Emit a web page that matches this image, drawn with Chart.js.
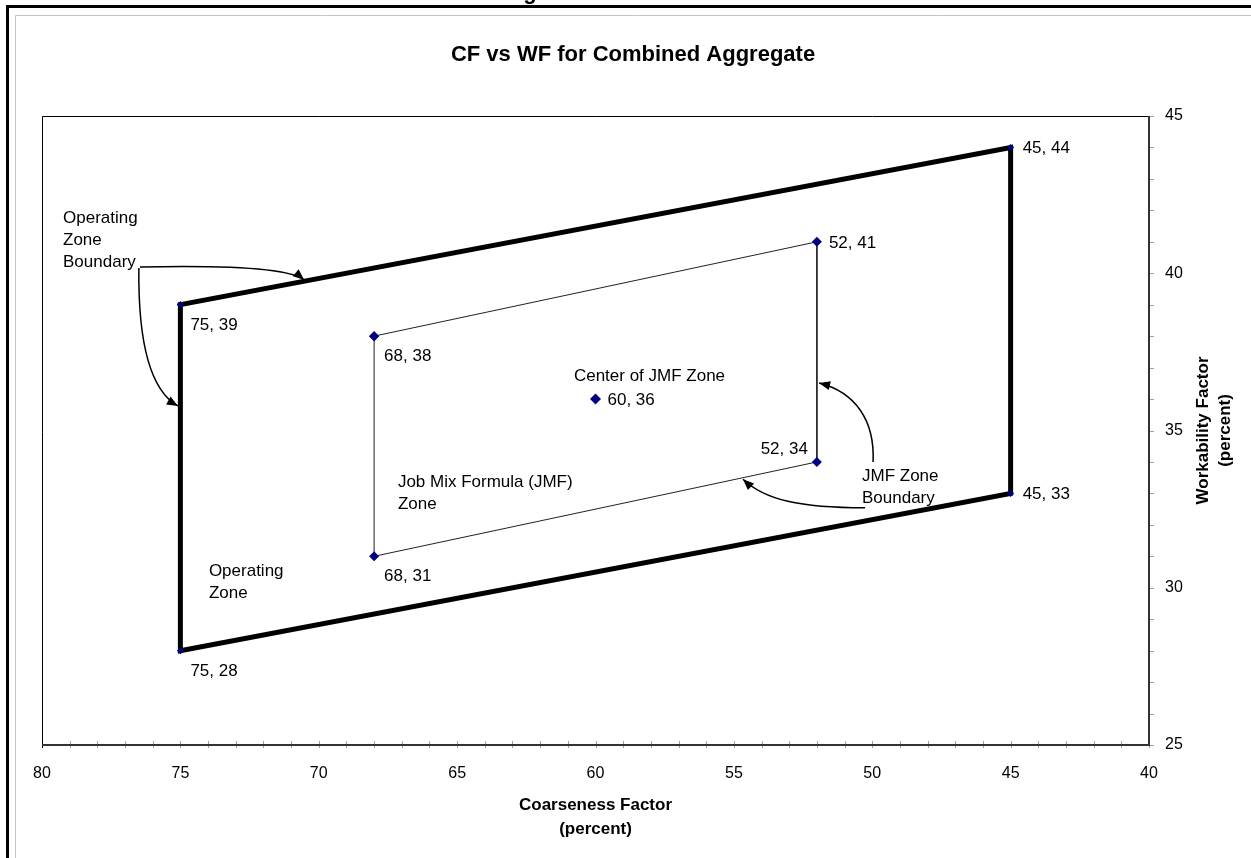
<!DOCTYPE html>
<html>
<head>
<meta charset="utf-8">
<script src="https://cdn.jsdelivr.net/npm/chart.js@4.4.0/dist/chart.umd.min.js"></script>
<style>
  html, body { margin: 0; padding: 0; background: #fff; overflow: hidden; }
  canvas { display: block; }
</style>
</head>
<body>
<canvas id="cfwf" width="1251" height="858"></canvas>
<script>
// coarseness factor (x) and workability factor (y)
const operatingCF = [75, 45, 45, 75, 75];
const operatingWF = [39, 44, 33, 28, 39];
const jmfCF = [68, 52, 52, 68, 68];
const jmfWF = [38, 41, 34, 31, 38];
const centerCF = [60];
const centerWF = [36];
const cfTicks = [80, 75, 70, 65, 60, 55, 50, 45, 40];
const wfTicks = [25, 30, 35, 40, 45];

const FONT = '"Liberation Sans", Arial, sans-serif';

// where each point label sits relative to its marker
const labelSpots = [
    ['below', 'right', 'right', 'below'],
    ['below', 'right', 'above', 'below'],
    ['right']
];

// notes and arrows, anchored in chart units
const notes = [
    { lines: ['Operating', 'Zone', 'Boundary'], at: [79.24, 41.60] },
    { lines: ['Center of JMF Zone'], at: [60.78, 36.57] },
    { lines: ['Job Mix Formula (JMF)', 'Zone'], at: [67.14, 33.20] },
    { lines: ['Operating', 'Zone'], at: [73.97, 30.37] },
    { lines: ['JMF Zone', 'Boundary'], at: [50.37, 33.39] }
];
const arrows = [
    [[76.46, 40.20], [73.21, 40.26], [71.04, 40.17], [70.53, 39.79]],
    [[76.50, 40.17], [76.53, 37.88], [76.10, 36.29], [75.09, 35.78]],
    [[49.97, 34.00], [49.90, 35.33], [50.62, 36.22], [51.92, 36.51]],
    [[50.26, 32.54], [52.61, 32.54], [53.88, 32.79], [54.67, 33.45]]
];

function toPoints(xs, ys) {
    return xs.map((x, i) => ({ x: x, y: ys[i] }));
}

function drawArrow(ctx, p) {
    ctx.beginPath();
    ctx.moveTo(p[0][0], p[0][1]);
    ctx.bezierCurveTo(p[1][0], p[1][1], p[2][0], p[2][1], p[3][0], p[3][1]);
    ctx.stroke();
    const a = Math.atan2(p[3][1] - p[2][1], p[3][0] - p[2][0]);
    const L = 11, W = 4.5;
    const c = Math.cos(a), s = Math.sin(a);
    ctx.beginPath();
    ctx.moveTo(p[3][0], p[3][1]);
    ctx.lineTo(p[3][0] - L * c + W * s, p[3][1] - L * s - W * c);
    ctx.lineTo(p[3][0] - L * c - W * s, p[3][1] - L * s + W * c);
    ctx.closePath();
    ctx.fill();
}

const decor = {
    id: 'decor',
    beforeDraw(chart) {
        const ctx = chart.ctx;
        const W = chart.width, H = chart.height;
        ctx.save();
        ctx.fillStyle = '#fff';
        ctx.fillRect(0, 0, W, H);

        // bit of the page heading above the frame
        ctx.fillStyle = '#000';
        ctx.font = 'bold 22px ' + FONT;
        ctx.textAlign = 'center';
        ctx.textBaseline = 'alphabetic';
        ctx.fillText('g', 530, -1);

        // page frame
        ctx.strokeStyle = '#000';
        ctx.lineWidth = 3;
        ctx.beginPath();
        ctx.moveTo(7.5, H + 5); ctx.lineTo(7.5, 6.5); ctx.lineTo(W + 5, 6.5);
        ctx.stroke();
        ctx.strokeStyle = '#c4c4c4';
        ctx.lineWidth = 1;
        ctx.beginPath();
        ctx.moveTo(15.5, H + 5); ctx.lineTo(15.5, 15.5); ctx.lineTo(W + 5, 15.5);
        ctx.stroke();

        // titles
        const ca = chart.chartArea;
        ctx.fillStyle = '#000';
        ctx.font = 'bold 22px ' + FONT;
        ctx.textAlign = 'center';
        ctx.fillText('CF vs WF for Combined Aggregate', (15 + W) / 2, 61);

        ctx.font = 'bold 17px ' + FONT;
        const cx = (ca.left + ca.right) / 2;
        ctx.fillText('Coarseness Factor', cx, 810);
        ctx.fillText('(percent)', cx, 834);

        const cy = (ca.top + ca.bottom) / 2;
        ctx.textBaseline = 'middle';
        ctx.translate(1203, cy);
        ctx.rotate(-Math.PI / 2);
        ctx.fillText('Workability Factor', 0, 0);
        ctx.fillText('(percent)', 0, 22);
        ctx.restore();
    },
    beforeDatasetsDraw(chart) {
        const ctx = chart.ctx;
        const ca = chart.chartArea;
        const xs = chart.scales.x, ys = chart.scales.y;
        ctx.save();
        // minor + major ticks
        ctx.strokeStyle = '#a0a0a0';
        ctx.lineWidth = 1;
        ctx.beginPath();
        for (let v = xs.min; v <= xs.max; v++) {
            const px = Math.round(xs.getPixelForValue(v)) + 0.5;
            ctx.moveTo(px, ca.bottom - 4); ctx.lineTo(px, ca.bottom + 3);
        }
        for (let v = ys.min; v <= ys.max; v++) {
            const py = Math.round(ys.getPixelForValue(v)) + 0.5;
            ctx.moveTo(ca.right, py); ctx.lineTo(ca.right + 5, py);
        }
        ctx.stroke();

        // plot frame
        ctx.strokeStyle = '#000';
        ctx.lineWidth = 1;
        ctx.beginPath();
        ctx.moveTo(ca.left + 0.5, ca.bottom + 3); ctx.lineTo(ca.left + 0.5, ca.top + 0.5); ctx.lineTo(ca.right, ca.top + 0.5);
        ctx.stroke();
        ctx.strokeStyle = '#333';
        ctx.lineWidth = 2;
        ctx.beginPath();
        ctx.moveTo(ca.left, ca.bottom); ctx.lineTo(ca.right, ca.bottom); ctx.lineTo(ca.right, ca.top);
        ctx.stroke();
        ctx.restore();
    },
    afterDatasetsDraw(chart) {
        const ctx = chart.ctx;
        const xs = chart.scales.x, ys = chart.scales.y;
        const P = (v) => [xs.getPixelForValue(v[0]), ys.getPixelForValue(v[1])];
        ctx.save();
        ctx.fillStyle = '#000';
        ctx.font = '17px ' + FONT;
        ctx.textBaseline = 'alphabetic';

        // point labels
        chart.data.datasets.forEach((ds, d) => {
            const meta = chart.getDatasetMeta(d);
            labelSpots[d].forEach((spot, i) => {
                const el = meta.data[i];
                const txt = ds.data[i].x + ', ' + ds.data[i].y;
                if (spot === 'right') {
                    ctx.textAlign = 'left';
                    ctx.fillText(txt, el.x + 12, el.y + 6);
                } else if (spot === 'below') {
                    ctx.textAlign = 'left';
                    ctx.fillText(txt, el.x + 10, el.y + 25);
                } else {
                    ctx.textAlign = 'right';
                    ctx.fillText(txt, el.x - 9, el.y - 8);
                }
            });
        });

        // notes
        ctx.textAlign = 'left';
        notes.forEach(n => {
            const p = P(n.at);
            n.lines.forEach((line, k) => ctx.fillText(line, p[0], p[1] + k * 22));
        });

        // arrows
        ctx.strokeStyle = '#000';
        ctx.lineWidth = 1.5;
        arrows.forEach(a => drawArrow(ctx, a.map(P)));
        ctx.restore();
    }
};

const ctx = document.getElementById('cfwf').getContext('2d');
new Chart(ctx, {
    type: 'scatter',
    data: {
        datasets: [
            {
                label: 'Operating Zone',
                data: toPoints(operatingCF, operatingWF),
                showLine: true,
                borderColor: '#000',
                borderWidth: 5,
                borderCapStyle: 'square',
                borderJoinStyle: 'miter',
                pointStyle: 'rectRot',
                pointRadius: 3.5,
                pointBackgroundColor: '#000080',
                pointBorderWidth: 0
            },
            {
                label: 'JMF Zone',
                data: toPoints(jmfCF, jmfWF),
                showLine: true,
                borderColor: '#222',
                borderWidth: 1,
                pointStyle: 'rectRot',
                pointRadius: 5,
                pointBackgroundColor: '#000080',
                pointBorderWidth: 0
            },
            {
                label: 'Center of JMF Zone',
                data: toPoints(centerCF, centerWF),
                showLine: false,
                pointStyle: 'rectRot',
                pointRadius: 5.5,
                pointBackgroundColor: '#000080',
                pointBorderWidth: 0
            }
        ]
    },
    options: {
        responsive: false,
        animation: false,
        events: [],
        layout: { padding: { left: 42, top: 116, right: 0, bottom: 0 } },
        plugins: { legend: { display: false }, tooltip: { enabled: false }, title: { display: false } },
        scales: {
            x: {
                type: 'linear',
                reverse: true,
                min: 40,
                max: 80,
                grid: { display: false },
                border: { display: false },
                afterBuildTicks: s => { s.ticks = cfTicks.map(v => ({ value: v })); },
                afterFit: s => { s.height = 858 - 745; },
                ticks: { color: '#000', font: { family: FONT, size: 16 }, padding: 11, maxRotation: 0, autoSkip: false }
            },
            y: {
                type: 'linear',
                position: 'right',
                min: 25,
                max: 45,
                grid: { display: false },
                border: { display: false },
                afterBuildTicks: s => { s.ticks = wfTicks.map(v => ({ value: v })); },
                afterFit: s => { s.width = 1251 - 1149; },
                ticks: { color: '#000', font: { family: FONT, size: 16 }, padding: 8 }
            }
        }
    },
    plugins: [decor]
});
</script>
</body>
</html>
